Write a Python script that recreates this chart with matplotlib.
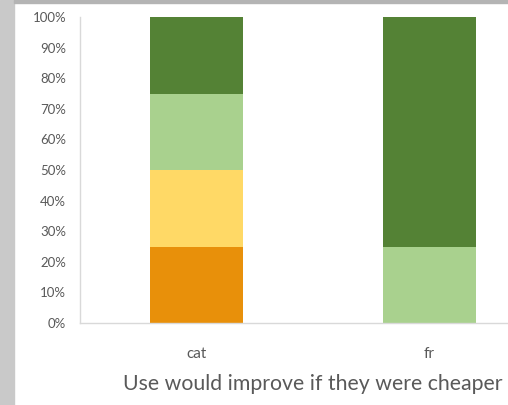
import matplotlib.pyplot as plt
from matplotlib.patches import Rectangle
from matplotlib.ticker import PercentFormatter

plt.rcParams["font.family"] = ["Lato", "DejaVu Sans"]

categories = ["cat", "fr"]
series_orange = [25, 0]
series_yellow = [25, 0]
series_light_green = [25, 25]
series_dark_green = [25, 75]
colors = ["#E8900A", "#FFD966", "#A9D18E", "#548235"]

fig = plt.figure(figsize=(5.08, 4.05), dpi=100)
fig.patch.set_facecolor("white")

# grey frame strips from the screenshot
fig.add_artist(Rectangle((0, 0), 14 / 508, 1, transform=fig.transFigure,
                         color="#c9c9c9", zorder=0))
fig.add_artist(Rectangle((14 / 508, 1 - 3 / 405), 1, 3 / 405,
                         transform=fig.transFigure, color="#b4b4b4", zorder=0))

ax = fig.add_axes([80 / 508, 1 - 323 / 405, 466 / 508, 306 / 405])

x = range(len(categories))
bottom = [0, 0]
for vals, c in zip([series_orange, series_yellow, series_light_green, series_dark_green], colors):
    ax.bar(x, vals, bottom=bottom, width=0.4, color=c, zorder=2)
    bottom = [b + v for b, v in zip(bottom, vals)]

ax.set_xlim(-0.5, 1.5)
ax.set_ylim(0, 100)
ax.set_yticks(range(0, 101, 10))
ax.yaxis.set_major_formatter(PercentFormatter(decimals=0))
ax.set_xticks(list(x))
ax.set_xticklabels(categories)

for s in ["top", "right"]:
    ax.spines[s].set_visible(False)
for s in ["left", "bottom"]:
    ax.spines[s].set_color("#d9d9d9")
    ax.spines[s].set_linewidth(1.0)

ax.tick_params(axis="both", length=0, colors="#595959")
ax.tick_params(axis="y", pad=10, labelsize=9.5)
ax.tick_params(axis="x", pad=17.5, labelsize=11)
ax.set_xlabel("Use would improve if they were cheaper", fontsize=15.3,
              color="#595959", labelpad=9)

fig.savefig("out.png", dpi=100)
